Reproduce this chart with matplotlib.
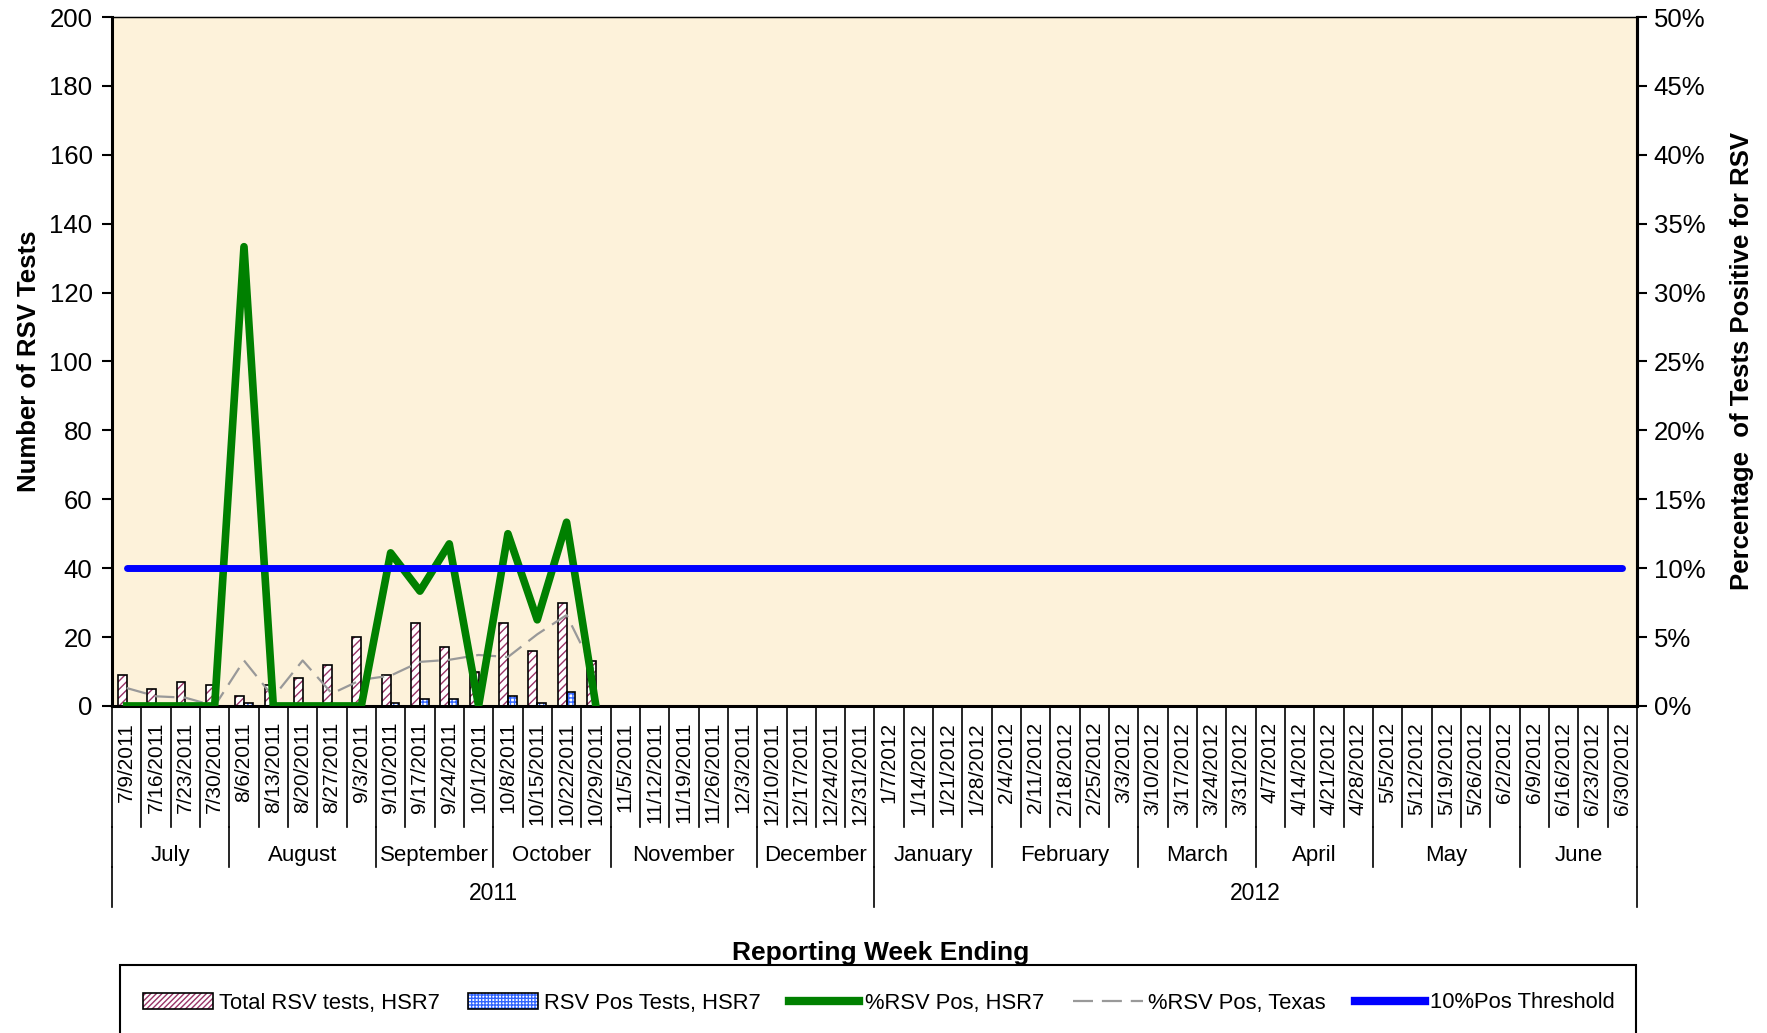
import matplotlib.pyplot as plt
from matplotlib.patches import Patch, Rectangle
from matplotlib.lines import Line2D
import numpy as np

plt.rcParams['font.family'] = ['Liberation Sans', 'DejaVu Sans']

weeks = ["7/9/2011", "7/16/2011", "7/23/2011", "7/30/2011", "8/6/2011", "8/13/2011",
         "8/20/2011", "8/27/2011", "9/3/2011", "9/10/2011", "9/17/2011", "9/24/2011",
         "10/1/2011", "10/8/2011", "10/15/2011", "10/22/2011", "10/29/2011", "11/5/2011",
         "11/12/2011", "11/19/2011", "11/26/2011", "12/3/2011", "12/10/2011", "12/17/2011",
         "12/24/2011", "12/31/2011", "1/7/2012", "1/14/2012", "1/21/2012", "1/28/2012",
         "2/4/2012", "2/11/2012", "2/18/2012", "2/25/2012", "3/3/2012", "3/10/2012",
         "3/17/2012", "3/24/2012", "3/31/2012", "4/7/2012", "4/14/2012", "4/21/2012",
         "4/28/2012", "5/5/2012", "5/12/2012", "5/19/2012", "5/26/2012", "6/2/2012",
         "6/9/2012", "6/16/2012", "6/23/2012", "6/30/2012"]
months = ["July", "August", "September", "October", "November", "December",
          "January", "February", "March", "April", "May", "June"]
month_weeks = [4, 5, 4, 4, 5, 4, 4, 5, 4, 4, 5, 4]
years = ["2011", "2012"]
year_weeks = [26, 26]

# observed weeks (rest of season not reported yet)
total_tests = [9, 5, 7, 6, 3, 6, 8, 12, 20, 9, 24, 17, 10, 24, 16, 30, 13]
pos_tests = [0, 0, 0, 0, 1, 0, 0, 0, 0, 1, 2, 2, 0, 3, 1, 4, 0]
pct_texas = [1.3, 0.7, 0.6, 0.0, 3.3, 0.65, 3.3, 0.9, 1.9, 2.2, 3.2, 3.35, 3.7, 3.55,
             5.2, 6.6, 2.3]
threshold = 10

n = len(weeks)
x = np.arange(n)
xo = np.arange(len(total_tests))
pct_hsr7 = [100.0 * p / t for p, t in zip(pos_tests, total_tests)]

fig = plt.figure(figsize=(17.67, 10.33), dpi=100)
ax = fig.add_axes([0.0634, 0.3166, 0.863, 0.6669])
ax.set_facecolor('#FDF2DA')

w = 0.3
ax.bar(xo - w / 2, total_tests, w, color='white', edgecolor='#993366', hatch='////', linewidth=0, zorder=2)
ax.bar(xo - w / 2, total_tests, w, fill=False, edgecolor='black', linewidth=1.2, zorder=3)
ax.bar(xo + w / 2, pos_tests, w, color='white', edgecolor='#3366FF', hatch='++++', linewidth=0, zorder=2)
ax.bar(xo + w / 2, pos_tests, w, fill=False, edgecolor='black', linewidth=1.2, zorder=3)

ax.set_xlim(-0.5, n - 0.5)
ax.set_ylim(0, 200)
ax.set_yticks(range(0, 201, 20))
ax.set_xticks([])
ax.tick_params(axis='y', labelsize=18.5, length=7, width=1.5, direction='out', pad=7)
ax.set_ylabel("Number of RSV Tests", fontsize=18.5, fontweight='bold', labelpad=6)
for s in ['left', 'right', 'bottom']:
    ax.spines[s].set_linewidth(2.2)
ax.spines['top'].set_linewidth(1)

ax2 = ax.twinx()
ax2.set_ylim(0, 50)
ax2.set_yticks(range(0, 51, 5))
ax2.set_yticklabels([f"{v}%" for v in range(0, 51, 5)])
ax2.tick_params(axis='y', labelsize=18.5, length=7, width=1.5, direction='out', pad=5)
ax2.set_ylabel("Percentage  of Tests Positive for RSV", fontsize=18.5, fontweight='bold', labelpad=18)
ax2.spines['right'].set_linewidth(2.2)
ax2.plot(xo, pct_texas, color='#999999', linewidth=1.6, dashes=(9, 4), zorder=3)
ax2.plot(xo, pct_hsr7, color='#008000', linewidth=5.5, zorder=4)
ax2.plot(x, [threshold] * n, color='#0000FF', linewidth=5, solid_capstyle='round', zorder=5)

# multi-level category axis
tr = ax.get_xaxis_transform()
hpx = 0.6669 * 1033
def fy(px):
    return -px / hpx

for i, lab in enumerate(weeks):
    ax.text(i, fy(16), lab, rotation=90, ha='center', va='top', fontsize=15, transform=tr)
for b in np.arange(n + 1) - 0.5:
    ax.plot([b, b], [0, fy(121)], color='black', linewidth=1.2, transform=tr, clip_on=False)

start = 0
for m, k in zip(months, month_weeks):
    ax.text(start + k / 2 - 0.5, fy(150), m, ha='center', va='center', fontsize=16, transform=tr)
    ax.plot([start - 0.5] * 2, [fy(121), fy(161)], color='black', linewidth=1.2, transform=tr, clip_on=False)
    start += k
ax.plot([start - 0.5] * 2, [fy(121), fy(161)], color='black', linewidth=1.2, transform=tr, clip_on=False)

start = 0
for yname, k in zip(years, year_weeks):
    ax.text(start + k / 2 - 0.5, fy(188), yname, ha='center', va='center', fontsize=16.5, transform=tr)
    ax.plot([start - 0.5] * 2, [fy(161), fy(201)], color='black', linewidth=1.2, transform=tr, clip_on=False)
    start += k
ax.plot([start - 0.5] * 2, [fy(161), fy(201)], color='black', linewidth=1.2, transform=tr, clip_on=False)

fig.text(0.4985, 1 - 953 / 1033, "Reporting Week Ending", ha='center', va='center',
         fontsize=19, fontweight='bold')

# legend box, cut off by the bottom edge like in the original
fig.patches.append(Rectangle((120 / 1767, -0.05), 1516 / 1767, (1033 - 965) / 1033 + 0.05,
                             transform=fig.transFigure, fill=False, edgecolor='black', linewidth=1.5))

h_total = (Patch(facecolor='white', edgecolor='#993366', hatch='//////', linewidth=0),
           Patch(fill=False, edgecolor='black', linewidth=1.2))
h_pos = (Patch(facecolor='white', edgecolor='#3366FF', hatch='+++++', linewidth=0),
         Patch(fill=False, edgecolor='black', linewidth=1.2))
h_green = Line2D([], [], color='#008000', linewidth=6)
h_gray = Line2D([], [], color='#999999', linewidth=1.6, dashes=(9, 4))
h_blue = Line2D([], [], color='#0000FF', linewidth=6)
fig.legend([h_total, h_pos, h_green, h_gray, h_blue],
           ["Total RSV tests, HSR7", "RSV Pos Tests, HSR7", "%RSV Pos, HSR7",
            "%RSV Pos, Texas", "10%Pos Threshold"],
           loc='center', bbox_to_anchor=(0.4975, 1 - 1003 / 1033), ncol=5, frameon=False,
           fontsize=15.8, handlelength=3.2, handleheight=0.7, columnspacing=1.3, handletextpad=0.25)

fig.savefig("out.png", dpi=100)
